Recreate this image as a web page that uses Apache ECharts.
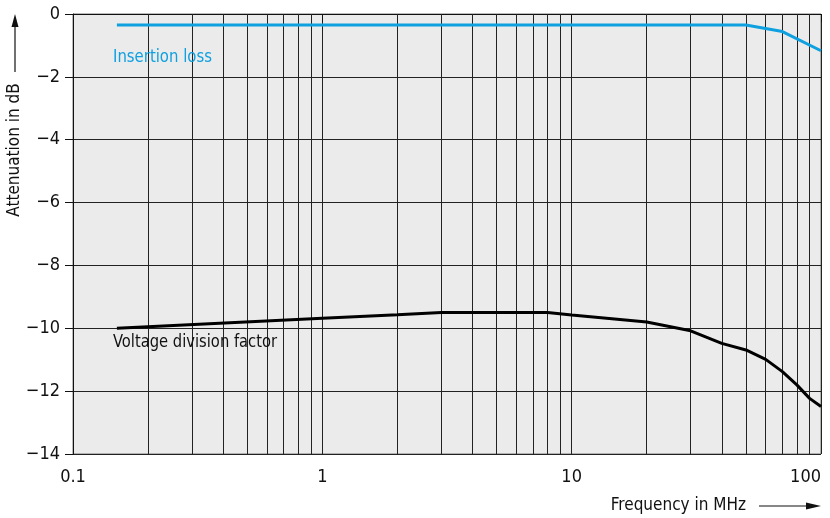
<!DOCTYPE html>
<html><head><meta charset="utf-8">
<script src="https://cdn.jsdelivr.net/npm/echarts@6/dist/echarts.min.js"></script>
<style>html,body{margin:0;padding:0;background:#fff}#c{width:830px;height:518px}</style>
</head><body><div id="c"></div>
<script>
const FONT = "'Liberation Sans Narrow','DejaVu Sans Condensed','Liberation Sans',sans-serif";
const freqInsertion = [0.15, 1, 10, 50, 70, 100];
const insertionLoss = [-0.35, -0.35, -0.35, -0.35, -0.56, -1.17];
const freqVoltage = [0.15, 1, 2, 3, 8, 10, 20, 30, 40, 50, 60, 70, 80, 90, 100];
const voltageDivision = [-10, -9.68, -9.57, -9.5, -9.5, -9.58, -9.8, -10.08, -10.48, -10.69, -10.99, -11.38, -11.8, -12.23, -12.49];
const minorGrid = [0.2,0.3,0.4,0.5,0.6,0.7,0.8,0.9,2,3,4,5,6,7,8,9,20,30,40,50,60,70,80,90];
const xTicks = [0.1, 1, 10, 100];
const yMin = -14, yMax = 0, yStep = 2;

const chart = echarts.init(document.getElementById('c'));
chart.setOption({
  animation: false,
  grid: {left: 73, right: 9, top: 14, bottom: 64, containLabel: false, outerBoundsMode: 'none',
         show: true, backgroundColor: '#ebebeb', borderColor: '#777', borderWidth: 1},
  xAxis: {
    type: 'log', logBase: 10, min: 0.1, max: 100,
    axisLine: {show: true, lineStyle: {color: '#111', width: 1}},
    axisTick: {show: true, length: 8, lineStyle: {color: '#111'}},
    axisLabel: {color: '#111', fontSize: 18, fontFamily: FONT, margin: 14, hideOverlap: false,
      alignMaxLabel: 'right',
      formatter: v => { const t = xTicks.find(x => Math.abs(x - v) < 1e-6 * Math.max(1, v)); return t === undefined ? '' : String(t); }},
    splitLine: {show: true, lineStyle: {color: '#222', width: 1}}
  },
  yAxis: {
    type: 'value', min: yMin, max: yMax, interval: yStep,
    axisLine: {show: true, lineStyle: {color: '#111', width: 1}},
    axisTick: {show: true, length: 8, lineStyle: {color: '#111'}},
    axisLabel: {color: '#111', fontSize: 18, fontFamily: FONT, margin: 13,
      formatter: v => String(v).replace('-', '\u2212')},
    splitLine: {show: true, lineStyle: {color: '#222', width: 1}}
  },
  series: [
    {type: 'line', symbol: 'none', z: 5,
     data: freqInsertion.map((f, i) => [f, insertionLoss[i]]),
     lineStyle: {color: '#0fa0e0', width: 3},
     markLine: {silent: true, symbol: ['none','none'], label: {show: false}, z: 1,
       lineStyle: {color: '#222', width: 1, type: 'solid'},
       data: minorGrid.map(v => ({xAxis: v}))}
    },
    {type: 'line', symbol: 'none', z: 5,
     data: freqVoltage.map((f, i) => [f, voltageDivision[i]]),
     lineStyle: {color: '#000', width: 3}}
  ],
  graphic: [
    {type: 'text', x: 113, y: 48, scaleX: 0.92, z: 10, style: {text: 'Insertion loss', fill: '#0fa0e0', font: '18px ' + FONT}},
    {type: 'text', x: 113, y: 333, scaleX: 0.91, z: 10, style: {text: 'Voltage division factor', fill: '#111', font: '18px ' + FONT}},
    {type: 'text', x: 15, y: 150, rotation: Math.PI/2, z: 10,
     style: {text: 'Attenuation in dB', fill: '#111', font: '17px ' + FONT, align: 'center', verticalAlign: 'middle'}},
    {type: 'line', shape: {x1: 15, y1: 72, x2: 15, y2: 24}, style: {stroke: '#111', lineWidth: 1.2}},
    {type: 'polygon', shape: {points: [[15, 14], [11.5, 27], [18.5, 27]]}, style: {fill: '#111'}},
    {type: 'text', x: 746, y: 506, z: 10,
     style: {text: 'Frequency in MHz', fill: '#111', font: '17px ' + FONT, align: 'right', verticalAlign: 'middle'}},
    {type: 'line', shape: {x1: 759, y1: 506, x2: 808, y2: 506}, style: {stroke: '#111', lineWidth: 1.2}},
    {type: 'polygon', shape: {points: [[821, 506], [806, 502.5], [806, 509.5]]}, style: {fill: '#111'}}
  ]
});
</script></body></html>
